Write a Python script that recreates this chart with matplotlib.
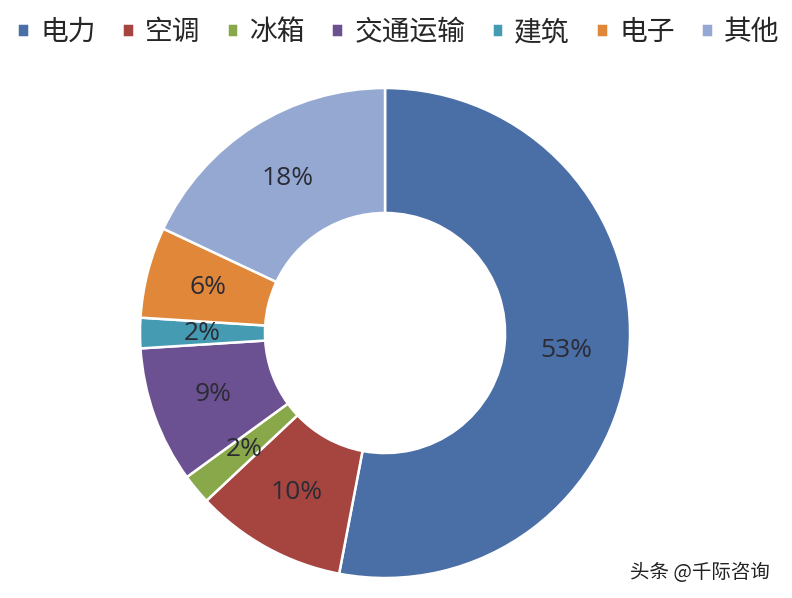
import matplotlib
matplotlib.use('Agg')
import matplotlib.pyplot as plt

plt.rcParams['font.family'] = ['Noto Sans CJK SC', 'DejaVu Sans']

# 数据
categories = ['电力', '空调', '冰箱', '交通运输', '建筑', '电子', '其他']
shares = [53, 10, 2, 9, 2, 6, 18]
colors = ['#4A6EA6', '#A6453F', '#88A84A', '#6B5191', '#459BB1', '#E0873A', '#95A8D1']

fig = plt.figure(figsize=(7.92, 5.98), dpi=100)
ax = fig.add_axes([0.1768, 0.0334, 0.6187, 0.8194])

wedges, texts, autotexts = ax.pie(
    shares,
    startangle=90,
    counterclock=False,
    colors=colors,
    radius=1.0,
    autopct=lambda p: '%d%%' % round(p),
    pctdistance=0.745,
    wedgeprops=dict(width=0.51, edgecolor='white', linewidth=1.8),
    textprops=dict(fontsize=19, color='#2b2b35', family=['Open Sans', 'DejaVu Sans']),
)
ax.set_xlim(-1.0, 1.0)
ax.set_ylim(-1.0, 1.0)
ax.set_aspect('equal')
ax.axis('off')

# 图例放在顶部一行
leg = fig.legend(wedges, categories, loc='upper left', bbox_to_anchor=(0.008, 0.99),
                 ncol=7, frameon=False, fontsize=20,
                 handlelength=0.42, handleheight=0.42, handletextpad=0.4,
                 columnspacing=0.95, borderaxespad=0.0)
for t in leg.get_texts():
    t.set_color('#262626')

# 水印
fig.text(0.795, 0.043, '头条 @千际咨询', fontsize=14, color='#222222',
         ha='left', va='center')

fig.savefig('out.png', dpi=100)
plt.close(fig)
